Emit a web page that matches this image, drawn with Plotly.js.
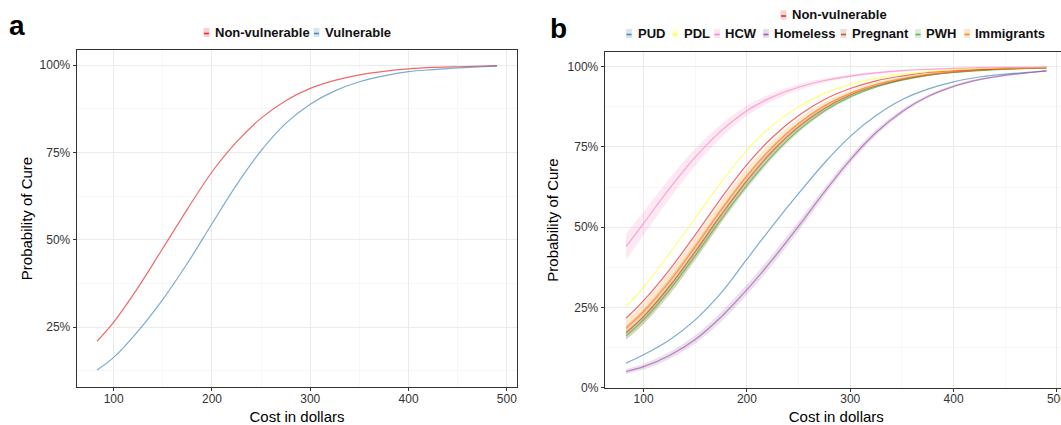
<!DOCTYPE html>
<html>
<head>
<meta charset="utf-8">
<script src="https://cdn.plot.ly/plotly-3.0.1.min.js"></script>
<style>
html,body{margin:0;padding:0;background:#fff;overflow:hidden;}
#chart{width:1068px;height:425px;}
</style>
</head>
<body>
<div id="chart"></div>
<script>
// ---------- data ----------
const cost = [83, 100, 125, 150, 175, 200, 225, 250, 275, 300, 325, 350, 375, 400, 425, 450, 475, 490];

// panel a
const aNonVulnerable = [21.0, 26.5, 36.5, 47.6, 58.8, 69.4, 78.0, 84.8, 89.8, 93.3, 95.6, 97.2, 98.2, 98.9, 99.3, 99.5, 99.7, 99.8];
const aVulnerable    = [12.8, 16.4, 24.0, 33.0, 43.3, 54.6, 65.7, 75.5, 83.3, 88.8, 92.6, 95.2, 96.9, 98.1, 98.7, 99.2, 99.5, 99.7];

// panel b
const bNonVulnerable = [21.6, 27.1, 36.7, 47.6, 59.0, 69.5, 78.1, 84.8, 89.8, 93.2, 95.6, 97.1, 98.2, 98.8, 99.2, 99.5, 99.7, 99.8];
const bPUD        = [7.6, 10.2, 14.8, 21.1, 29.5, 40.0, 50.5, 60.5, 70.0, 78.3, 84.8, 89.7, 93.0, 95.3, 96.8, 97.7, 98.3, 98.7];
const bPDL        = [25.2, 31.3, 41.8, 52.8, 64.0, 74.0, 81.8, 87.5, 91.7, 94.5, 96.4, 97.7, 98.5, 99.0, 99.4, 99.6, 99.7, 99.8];
const bHCW        = [43.9, 51.2, 62.0, 71.8, 80.0, 86.3, 90.6, 93.6, 95.7, 97.1, 98.1, 98.8, 99.2, 99.5, 99.7, 99.8, 99.8, 99.9];
const bHomeless   = [5.0, 6.5, 10.0, 15.0, 22.0, 30.5, 40.0, 50.3, 61.0, 71.0, 79.5, 86.0, 90.7, 93.9, 96.0, 97.3, 98.2, 98.7];
const bPregnant   = [17.1, 22.1, 31.5, 42.4, 53.8, 64.5, 73.8, 81.3, 87.0, 91.2, 94.0, 96.0, 97.4, 98.3, 98.9, 99.3, 99.5, 99.6];
const bPWH        = [16.1, 21.1, 30.4, 41.1, 52.4, 63.0, 72.4, 80.2, 86.2, 90.6, 93.7, 95.8, 97.3, 98.2, 98.8, 99.2, 99.5, 99.6];
const bImmigrants = [18.5, 23.7, 33.0, 43.9, 55.3, 66.0, 75.0, 82.3, 87.8, 91.7, 94.5, 96.3, 97.6, 98.4, 99.0, 99.3, 99.6, 99.7];

// confidence band half-widths (percentage points)
const ciHCW        = [4.1, 3.7, 3.2, 2.7, 2.1, 1.6, 1.2, 0.9, 0.6, 0.45, 0.35, 0.25, 0.2, 0.15, 0.1, 0.1, 0.1, 0.1];
const ciImmigrants = [2.6, 2.8, 3.0, 3.0, 2.8, 2.4, 2.0, 1.6, 1.2, 0.9, 0.65, 0.45, 0.3, 0.2, 0.15, 0.1, 0.1, 0.1];
const ciPregnant   = [2.2, 2.4, 2.6, 2.6, 2.4, 2.1, 1.8, 1.4, 1.1, 0.8, 0.55, 0.4, 0.3, 0.2, 0.15, 0.1, 0.1, 0.1];
const ciPWH        = [1.2, 1.3, 1.4, 1.4, 1.3, 1.2, 1.0, 0.8, 0.6, 0.45, 0.35, 0.25, 0.2, 0.15, 0.1, 0.1, 0.1, 0.1];
const ciHomeless   = [0.8, 0.9, 1.1, 1.3, 1.5, 1.6, 1.6, 1.5, 1.3, 1.1, 0.9, 0.7, 0.5, 0.4, 0.3, 0.2, 0.15, 0.1];

const yTicksA = [25, 50, 75, 100];
const yTickLabelsA = ['25%', '50%', '75%', '100%'];
const yTicksB = [0, 25, 50, 75, 100];
const yTickLabelsB = ['0%', '25%', '50%', '75%', '100%'];
const xTicks  = [100, 200, 300, 400, 500];
const xTickLabels = ['100', '200', '300', '400', '500'];

// ---------- styling ----------
const W = 1068, H = 425;
const FONT = 'Liberation Sans, Arial, Helvetica, sans-serif';
const COL = {
  red:    [228, 26, 28],
  blue:   [55, 126, 184],
  green:  [77, 175, 74],
  purple: [152, 78, 163],
  orange: [255, 127, 0],
  yellow: [255, 255, 51],
  brown:  [166, 86, 40],
  pink:   [247, 129, 191]
};
const rgba = (c, a) => `rgba(${c[0]},${c[1]},${c[2]},${a})`;
const LA = 0.65, FA = 0.18;

const traces = [];
function band(vals, ci, c, xa, ya) {
  traces.push({x: cost, y: vals.map((v, i) => v - ci[i]), xaxis: xa, yaxis: ya, mode: 'lines',
    line: {width: 0, shape: 'spline', smoothing: 1}, hoverinfo: 'skip', showlegend: false});
  traces.push({x: cost, y: vals.map((v, i) => v + ci[i]), xaxis: xa, yaxis: ya, mode: 'lines',
    line: {width: 0, shape: 'spline', smoothing: 1}, fill: 'tonexty', fillcolor: rgba(c, FA), hoverinfo: 'skip', showlegend: false});
}
function line(name, vals, c, xa, ya) {
  traces.push({x: cost, y: vals, name: name, xaxis: xa, yaxis: ya, mode: 'lines',
    line: {color: rgba(c, LA), width: 1.2, shape: 'spline', smoothing: 1}, showlegend: false});
}

// panel a
line('Non-vulnerable', aNonVulnerable, COL.red, 'x', 'y');
line('Vulnerable', aVulnerable, COL.blue, 'x', 'y');

// panel b
band(bHCW, ciHCW, COL.pink, 'x2', 'y2');
band(bHomeless, ciHomeless, COL.purple, 'x2', 'y2');
band(bPWH, ciPWH, COL.green, 'x2', 'y2');
band(bPregnant, ciPregnant, COL.brown, 'x2', 'y2');
band(bImmigrants, ciImmigrants, COL.orange, 'x2', 'y2');
line('PUD', bPUD, COL.blue, 'x2', 'y2');
line('Homeless', bHomeless, COL.purple, 'x2', 'y2');
line('PWH', bPWH, COL.green, 'x2', 'y2');
line('Pregnant', bPregnant, COL.brown, 'x2', 'y2');
line('Immigrants', bImmigrants, COL.orange, 'x2', 'y2');
line('Non-vulnerable', bNonVulnerable, COL.red, 'x2', 'y2');
line('PDL', bPDL, COL.yellow, 'x2', 'y2');
line('HCW', bHCW, COL.pink, 'x2', 'y2');

function xAxis(domain, anchor) {
  return {domain: domain, anchor: anchor, range: [62.65, 510.35], tickvals: xTicks, ticktext: xTickLabels,
    showline: true, mirror: true, linecolor: '#333', linewidth: 1.3,
    ticks: 'outside', ticklen: 3, tickwidth: 1, tickcolor: '#333', ticklabelstandoff: -3,
    showgrid: true, gridcolor: '#EBEBEB', gridwidth: 1, zeroline: false,
    minor: {dtick: 50, tick0: 0, showgrid: true, gridcolor: '#F4F4F4', gridwidth: 0.7, ticks: ''},
    tickfont: {family: FONT, size: 12, color: '#333'},
    title: {text: 'Cost in dollars', font: {family: FONT, size: 15, color: '#000'}, standoff: 7}};
}
function yAxis(domain, anchor, range, tv, tt, standoff) {
  return {domain: domain, anchor: anchor, range: range, tickvals: tv, ticktext: tt,
    showline: true, mirror: true, linecolor: '#333', linewidth: 1.3,
    ticks: 'outside', ticklen: 3, tickwidth: 1, tickcolor: '#333',
    showgrid: true, gridcolor: '#EBEBEB', gridwidth: 1, zeroline: false,
    minor: {dtick: 12.5, tick0: 0, showgrid: true, gridcolor: '#F4F4F4', gridwidth: 0.7, ticks: ''},
    tickfont: {family: FONT, size: 12, color: '#333'},
    title: {text: 'Probability of Cure', font: {family: FONT, size: 15, color: '#000'}, standoff: standoff}};
}

const pxX = v => v / W;
const pxY = v => 1 - v / H;

// legend entries (text as annotations, keys as small shapes), pixel placement
const legendItems = [
  {t: 'Non-vulnerable', c: COL.red,    kx: 206.5, tx: 213, y: 32.5},
  {t: 'Vulnerable',     c: COL.blue,   kx: 316.5, tx: 323, y: 32.5},
  {t: 'Non-vulnerable', c: COL.red,    kx: 783.5, tx: 790, y: 15},
  {t: 'PUD',            c: COL.blue,   kx: 629,   tx: 635.5, y: 33.5},
  {t: 'PDL',            c: COL.yellow, kx: 675,   tx: 681.5, y: 33.5},
  {t: 'HCW',            c: COL.pink,   kx: 717,   tx: 723,   y: 33.5},
  {t: 'Homeless',       c: COL.purple, kx: 766,   tx: 772,   y: 33.5},
  {t: 'Pregnant',       c: COL.brown,  kx: 843.5, tx: 850,   y: 33.5},
  {t: 'PWH',            c: COL.green,  kx: 918,   tx: 924,   y: 33.5},
  {t: 'Immigrants',     c: COL.orange, kx: 967,   tx: 973,   y: 33.5}
];

const annotations = [
  {text: 'a', x: pxX(7), y: pxY(26), xref: 'paper', yref: 'paper', xanchor: 'left', yanchor: 'middle', showarrow: false,
   font: {family: FONT, size: 28, color: '#000', weight: 700}},
  {text: 'b', x: pxX(548), y: pxY(28), xref: 'paper', yref: 'paper', xanchor: 'left', yanchor: 'middle', showarrow: false,
   font: {family: FONT, size: 28, color: '#000', weight: 700}}
];
const shapes = [];
legendItems.forEach(it => {
  annotations.push({text: it.t, x: pxX(it.tx), y: pxY(it.y), xref: 'paper', yref: 'paper', xanchor: 'left', yanchor: 'middle',
    showarrow: false, font: {family: FONT, size: 13, color: '#111', weight: 700}});
  shapes.push({type: 'rect', xref: 'paper', yref: 'paper', x0: pxX(it.kx - 3), x1: pxX(it.kx + 3), y0: pxY(it.y + 4.5), y1: pxY(it.y - 4.5),
    fillcolor: rgba(it.c, 0.2), line: {width: 0}});
  shapes.push({type: 'line', xref: 'paper', yref: 'paper', x0: pxX(it.kx - 2.5), x1: pxX(it.kx + 2.5), y0: pxY(it.y + 1), y1: pxY(it.y + 1),
    line: {color: rgba(it.c, 0.9), width: 1.6}});
});

const layout = {
  width: W, height: H,
  margin: {l: 0, r: 0, t: 0, b: 0},
  paper_bgcolor: '#fff', plot_bgcolor: '#fff',
  showlegend: false,
  font: {family: FONT},
  xaxis: xAxis([77 / W, 517 / W], 'y'),
  yaxis: yAxis([38 / H, 375 / H], 'x', [7.92, 104.29], yTicksA, yTickLabelsA, 3),
  xaxis2: xAxis([605 / W, 1067.6 / W], 'y2'),
  yaxis2: yAxis([37.3 / H, 372.7 / H], 'x2', [-0.05, 104.5], yTicksB, yTickLabelsB, 5),
  annotations: annotations,
  shapes: shapes
};

Plotly.newPlot('chart', traces, layout, {displayModeBar: false, staticPlot: true});
</script>
</body>
</html>
